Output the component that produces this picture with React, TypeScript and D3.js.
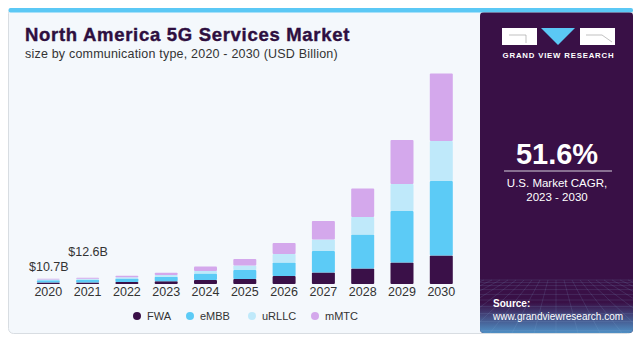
import React, { useEffect, useRef } from "react";
import * as d3 from "d3";

const years = ["2020", "2021", "2022", "2023", "2024", "2025", "2026", "2027", "2028", "2029", "2030"];
const fwa = [2.8, 3.2, 4.0, 5.5, 8, 10, 16, 23, 31, 43, 57];
const embb = [4.6, 5.4, 7.0, 9.0, 13, 18, 27, 43, 68, 103, 149];
const urllc = [1.5, 1.8, 2.5, 3.5, 5, 9, 17, 23, 35, 54, 80];
const mmtc = [1.8, 2.2, 3.1, 4.6, 9, 13, 22, 37, 57, 88, 135];
const seriesNames = ["FWA", "eMBB", "uRLLC", "mMTC"];
const seriesColors = ["#3a1048", "#5ccbf6", "#bfe9fa", "#d4a8ec"];
const totalLabels = [
  { year: "2020", text: "$10.7B", offset: 8 },
  { year: "2021", text: "$12.6B", offset: 22 },
];

export default function App() {
  const ref = useRef<SVGSVGElement>(null);
  useEffect(() => {
    const svg = d3.select(ref.current);
    svg.selectAll("*").remove();
    const font = "'Liberation Sans', Arial, sans-serif";

    const defs = svg.append("defs");
    const grad = defs.append("linearGradient").attr("id", "pg").attr("x1", 0).attr("y1", 0).attr("x2", 0).attr("y2", 1);
    grad.append("stop").attr("offset", "0%").attr("stop-color", "#391046");
    grad.append("stop").attr("offset", "55%").attr("stop-color", "#391046");
    grad.append("stop").attr("offset", "100%").attr("stop-color", "#4f8fc4");
    defs.append("clipPath").attr("id", "pc").append("rect").attr("x", 480).attr("y", 12).attr("width", 153).attr("height", 321).attr("rx", 4);

    // card
    svg.append("rect").attr("x", 8.5).attr("y", 8.5).attr("width", 624).attr("height", 325).attr("rx", 5)
      .attr("fill", "#f4f8fc").attr("stroke", "#d8dde2");
    svg.append("rect").attr("x", 8.5).attr("y", 8).attr("width", 624.5).attr("height", 4.5).attr("rx", 2).attr("fill", "#5bc8f5");

    // purple panel
    const pg = svg.append("g").attr("clip-path", "url(#pc)");
    pg.append("rect").attr("x", 480).attr("y", 12.5).attr("width", 153).attr("height", 321).attr("fill", "#391046");
    pg.append("rect").attr("x", 480).attr("y", 265).attr("width", 153).attr("height", 68).attr("fill", "url(#pg)");
    const gridG = pg.append("g").attr("stroke", "#8fb8e0").attr("stroke-opacity", 0.25).attr("stroke-width", 0.6);
    for (let i = 0; i < 12; i++) {
      const yy = 280 + i * i * 0.4 + i * 2;
      gridG.append("line").attr("x1", 480).attr("x2", 633).attr("y1", yy).attr("y2", yy);
    }
    for (let i = -12; i <= 12; i++) {
      gridG.append("line").attr("x1", 556 + i * 8).attr("y1", 280).attr("x2", 556 + i * 22).attr("y2", 333);
    }

    // logo
    svg.append("rect").attr("x", 502).attr("y", 28).attr("width", 35).attr("height", 17).attr("fill", "#fff");
    svg.append("path").attr("d", "M541,28 L575,28 L558,45 Z").attr("fill", "#5bc8f5");
    svg.append("rect").attr("x", 580).attr("y", 28).attr("width", 35).attr("height", 17).attr("fill", "#fff");
    svg.append("path").attr("d", "M509,35 L526,35 L526,43").attr("stroke", "#999").attr("stroke-width", 0.6).attr("fill", "none");
    svg.append("path").attr("d", "M586,35 L602,35 L612,42").attr("stroke", "#999").attr("stroke-width", 0.6).attr("fill", "none");
    svg.append("text").attr("x", 558.5).attr("y", 58).attr("text-anchor", "middle").attr("fill", "#fff")
      .attr("font-family", font).attr("font-weight", "bold").attr("font-size", 7.8).attr("letter-spacing", 0.8)
      .text("GRAND VIEW RESEARCH");

    svg.append("text").attr("x", 557).attr("y", 164).attr("text-anchor", "middle").attr("fill", "#fff")
      .attr("font-family", font).attr("font-weight", "bold").attr("font-size", 29).text("51.6%");
    svg.append("line").attr("x1", 504).attr("x2", 612).attr("y1", 171).attr("y2", 171).attr("stroke", "#d8d0dc").attr("stroke-width", 1);
    svg.append("text").attr("x", 557).attr("y", 187).attr("text-anchor", "middle").attr("fill", "#fff")
      .attr("font-family", font).attr("font-size", 11.5).text("U.S. Market CAGR,");
    svg.append("text").attr("x", 557).attr("y", 201).attr("text-anchor", "middle").attr("fill", "#fff")
      .attr("font-family", font).attr("font-size", 11.5).text("2023 - 2030");
    svg.append("text").attr("x", 493).attr("y", 307).attr("fill", "#fff").attr("font-family", font)
      .attr("font-weight", "bold").attr("font-size", 10).text("Source:");
    svg.append("text").attr("x", 493).attr("y", 320).attr("fill", "#fff").attr("font-family", font)
      .attr("font-size", 10).text("www.grandviewresearch.com");

    // titles
    svg.append("text").attr("x", 25).attr("y", 41).attr("fill", "#2e0f40").attr("font-family", font)
      .attr("font-weight", "900").attr("font-size", 18.5).attr("letter-spacing", 0.7)
      .attr("stroke", "#2e0f40").attr("stroke-width", 0.4)
      .text("North America 5G Services Market");
    svg.append("text").attr("x", 25).attr("y", 58).attr("fill", "#333").attr("font-family", font)
      .attr("font-size", 12.5).attr("letter-spacing", 0.2).text("size by communication type, 2020 - 2030 (USD Billion)");

    // chart
    const x = d3.scaleBand().domain(years).range([28.65, 460.95]).paddingInner(0.415).paddingOuter(0.2075);
    const y = d3.scaleLinear().domain([0, 420]).range([284, 74]);
    const rows = years.map((yr, i) => ({ year: yr, FWA: fwa[i], eMBB: embb[i], uRLLC: urllc[i], mMTC: mmtc[i] }));
    const stack = d3.stack<any>().keys(seriesNames)(rows);
    const color = d3.scaleOrdinal<string>().domain(seriesNames).range(seriesColors);
    const cg = svg.append("g");
    stack.forEach((layer) => {
      cg.append("g").attr("fill", color(layer.key)).selectAll("rect").data(layer).join("rect")
        .attr("x", (d: any) => x(d.data.year)!)
        .attr("width", x.bandwidth())
        .attr("y", (d: any) => y(d[1]))
        .attr("height", (d: any) => Math.max(0, y(d[0]) - y(d[1])))
        .attr("rx", 1);
    });

    const axis = d3.axisBottom(x).tickSize(0).tickPadding(0);
    const ag = svg.append("g").attr("transform", "translate(0,286)").call(axis);
    ag.select(".domain").remove();
    ag.selectAll("text").attr("font-family", font).attr("font-size", 12.5).attr("fill", "#333").attr("dy", "0.8em");

    const totals = years.map((_, i) => fwa[i] + embb[i] + urllc[i] + mmtc[i]);
    totalLabels.forEach((l) => {
      const i = years.indexOf(l.year);
      svg.append("text").attr("x", x(l.year)! + x.bandwidth() / 2 + 0.5).attr("y", y(totals[i]) - l.offset)
        .attr("text-anchor", "middle").attr("fill", "#333").attr("font-family", font).attr("font-size", 12.5).text(l.text);
    });

    // legend
    const legendX = [137, 190, 252, 315];
    const lg = svg.append("g");
    seriesNames.forEach((s, i) => {
      lg.append("circle").attr("cx", legendX[i]).attr("cy", 316).attr("r", 4).attr("fill", seriesColors[i]);
      lg.append("text").attr("x", legendX[i] + 10).attr("y", 320).attr("fill", "#333").attr("font-family", font)
        .attr("font-size", 11).text(s);
    });
  }, []);
  return (
    <svg ref={ref} width={640} height={340} style={{ position: "absolute", left: 0, top: 0, background: "#fff" }} />
  );
}
